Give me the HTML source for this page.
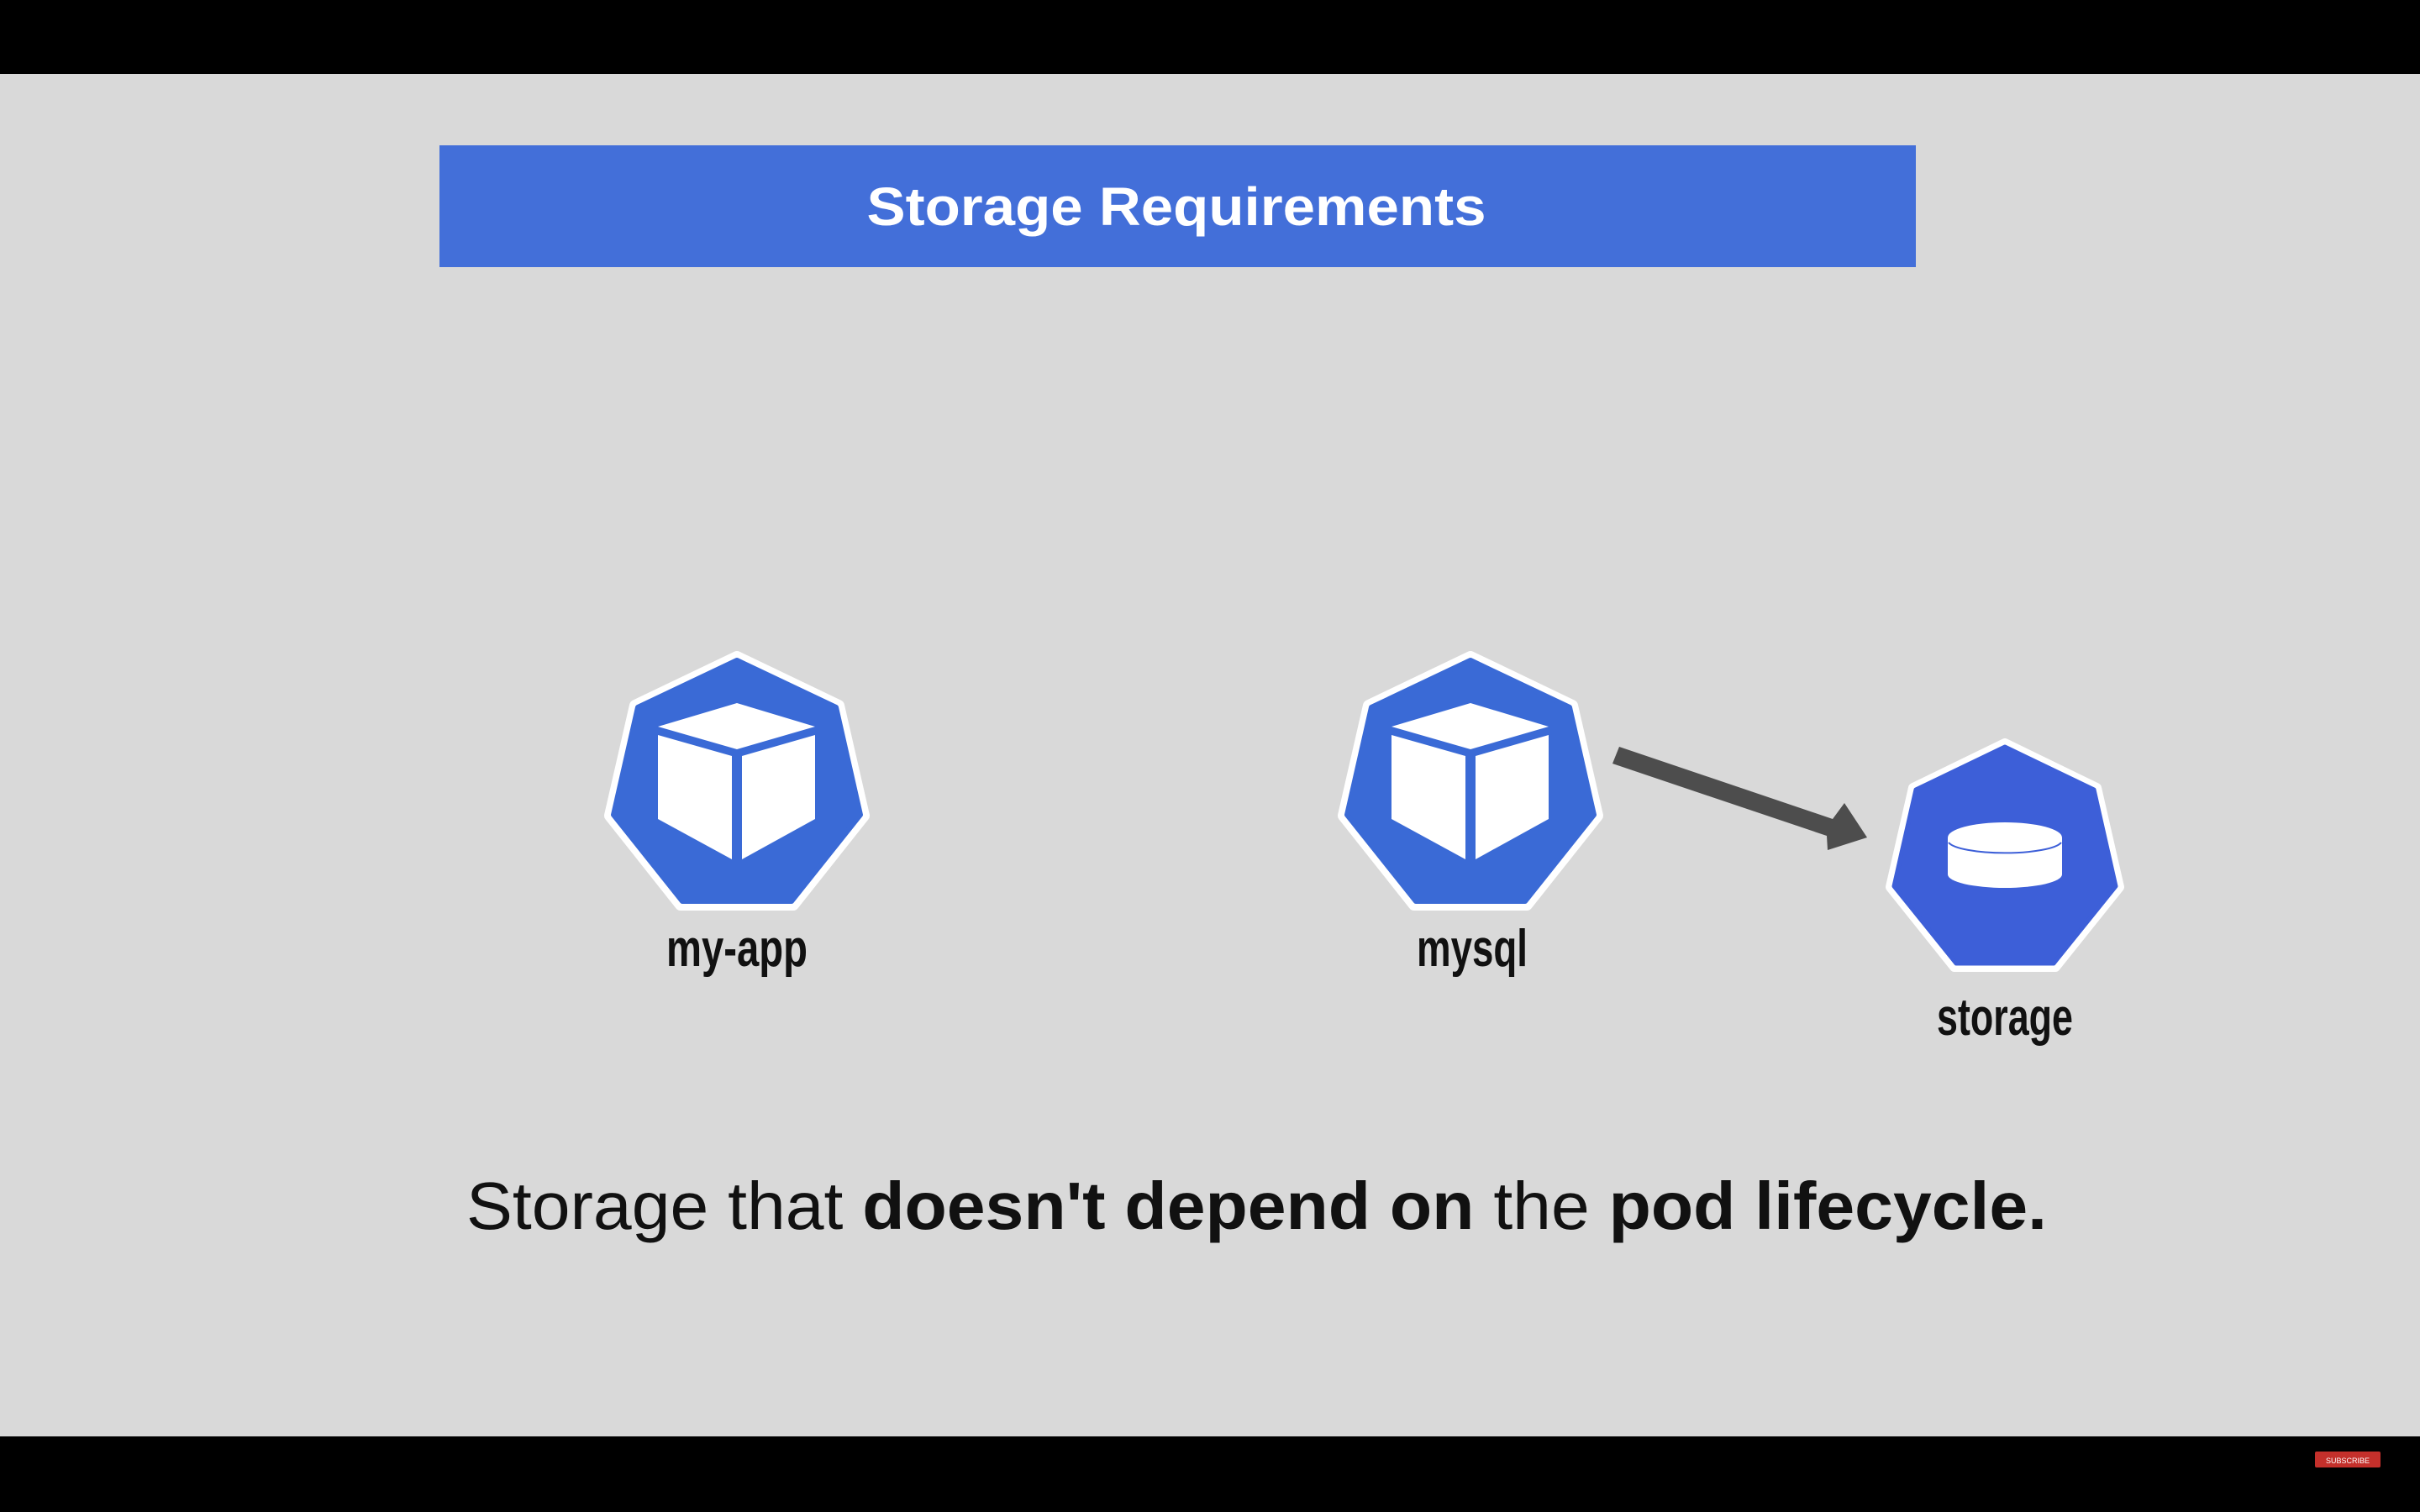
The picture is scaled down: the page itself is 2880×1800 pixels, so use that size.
<!DOCTYPE html>
<html><head><meta charset="utf-8"><style>
html,body{margin:0;padding:0;background:#000;}
svg{display:block}
</style></head><body>
<svg width="2880" height="1800" viewBox="0 0 2880 1800" xmlns="http://www.w3.org/2000/svg">
<rect x="0" y="0" width="2880" height="1800" fill="#000"/>
<rect x="0" y="88" width="2880" height="1622" fill="#d9d9d9"/>
<rect x="523" y="173" width="1757" height="145" fill="#436fd9"/>
<text x="1400" y="268" text-anchor="middle" font-family="Liberation Sans, sans-serif" font-weight="bold" font-size="64" fill="#fff" textLength="737" lengthAdjust="spacingAndGlyphs">Storage Requirements</text>

<defs>
<g id="pod">
<polygon points="0,-155 121,-97 151,34 67,140 -67,140 -151,34 -121,-97" fill="#fff" stroke="#fff" stroke-width="14" stroke-linejoin="round"/>
<polygon points="0,-151 118,-95 147,33 65,136 -65,136 -147,33 -118,-95" fill="#3a6ad6" stroke="#3a6ad6" stroke-width="6" stroke-linejoin="round"/>
<polygon points="0,-100 93,-72 0,-45 -94,-72" fill="#fff"/>
<polygon points="-94,-62 -6,-37 -6,86 -94,38" fill="#fff"/>
<polygon points="6,-37 93,-62 93,38 6,86" fill="#fff"/>
</g>
</defs>
<use href="#pod" x="877" y="937"/>
<use href="#pod" x="1750" y="937"/>

<text x="877" y="1150" text-anchor="middle" font-family="Liberation Sans Narrow, Liberation Sans, sans-serif" font-weight="bold" font-size="62" fill="#111" textLength="168" lengthAdjust="spacingAndGlyphs">my-app</text>
<text x="1752" y="1150" text-anchor="middle" font-family="Liberation Sans Narrow, Liberation Sans, sans-serif" font-weight="bold" font-size="62" fill="#111" textLength="132" lengthAdjust="spacingAndGlyphs">mysql</text>

<polygon points="1919,909 1927,889 2181,975 2195,956 2222,997 2175,1012 2174,995" fill="#4d4d4d"/>

<g transform="translate(2386,1025)">
<polygon points="0,-140 109,-87 136,31 60,126 -60,126 -136,31 -109,-87" fill="#fff" stroke="#fff" stroke-width="12" stroke-linejoin="round"/>
<polygon points="0,-136 106,-85 132,30 58,122 -58,122 -132,30 -106,-85" fill="#3d5fd8" stroke="#3d5fd8" stroke-width="5" stroke-linejoin="round"/>
<path d="M-68,-28 L-68,16 A68,16 0 0 0 68,16 L68,-28 Z" fill="#fff"/>
<ellipse cx="0" cy="-28" rx="68" ry="18" fill="#fff"/>
<path d="M-67,-22 A68,15 0 0 0 67,-22" fill="none" stroke="#3d5fd8" stroke-width="2"/>
</g>
<text x="2386" y="1232" text-anchor="middle" font-family="Liberation Sans Narrow, Liberation Sans, sans-serif" font-weight="bold" font-size="62" fill="#111" textLength="162" lengthAdjust="spacingAndGlyphs">storage</text>

<text x="555" y="1463" font-family="Liberation Sans, sans-serif" font-size="80" fill="#111" textLength="1881" lengthAdjust="spacingAndGlyphs">Storage that <tspan font-weight="bold">doesn't depend on</tspan> the <tspan font-weight="bold">pod lifecycle.</tspan></text>

<rect x="2755" y="1728" width="78" height="19" rx="2" fill="#c4302b"/>
<text x="2794" y="1742" text-anchor="middle" font-family="Liberation Sans, sans-serif" font-size="9" fill="#fff">SUBSCRIBE</text>
</svg>
</body></html>
